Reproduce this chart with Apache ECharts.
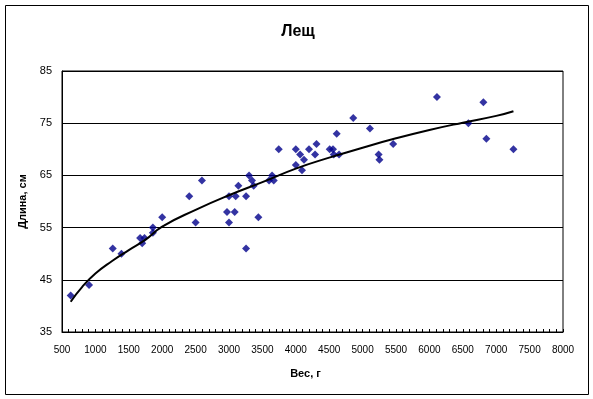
<!DOCTYPE html>
<html>
<head>
<meta charset="utf-8">
<script src="https://cdn.jsdelivr.net/npm/echarts@6/dist/echarts.min.js"></script>
<style>
  html, body { margin: 0; padding: 0; background: #fff; }
  #main { width: 593px; height: 399px; }
</style>
</head>
<body>
<div id="main"></div>
<script>
// вес, г / длина, см
const weights = [630, 905, 1260, 1390, 1670, 1700, 1735, 1860, 1860, 2000,
  2405, 2500, 2595, 2970, 3000, 3000, 3085, 3100, 3140, 3255,
  3255, 3300, 3344, 3370, 3440, 3600, 3645, 3670, 3745, 4000,
  4000, 4065, 4093, 4123, 4198, 4288, 4310, 4507, 4557, 4568,
  4648, 4612, 4860, 5110, 5240, 5252, 5458, 6113, 6583, 6808,
  6853, 7258]
const lengths = [42, 44, 51, 50, 53, 52, 53, 55, 54, 57,
  61, 56, 64, 58, 61, 56, 58, 61, 63, 61,
  51, 65, 64, 63, 57, 64, 65, 64, 70, 70,
  67, 69, 66, 68, 70, 69, 71, 70, 70, 69,
  69, 73, 76, 74, 69, 68, 71, 80, 75, 79,
  72, 70]

// линия тренда
const trendX = [630, 800, 1000, 1250, 1500, 1750, 2000, 2500, 3000, 3500,
  4000, 4500, 5000, 5500, 6000, 6500, 7000, 7258]
const trendY = [40.8, 43.6, 46.2, 48.6, 50.7, 52.7, 55.2, 58.4, 61.2, 63.7,
  66.3, 68.4, 70.3, 72.1, 73.7, 75.1, 76.4, 77.3]

const xTicks = { min: 500, max: 8000, step: 500 }
const yTicks = { min: 35, max: 85, step: 10 }

const chart = echarts.init(document.getElementById('main'))

chart.setOption({
  animation: false,
  backgroundColor: '#fff',
  textStyle: { fontFamily: 'Liberation Sans, Arial, sans-serif' },
  title: {
    text: 'Лещ',
    left: 293,
    top: 19,
    textAlign: 'center',
    textStyle: { fontSize: 16, fontWeight: 'bold', color: '#000' }
  },
  graphic: [{
    type: 'rect',
    shape: { x: 5.5, y: 5.5, width: 583, height: 389 },
    style: { fill: null, stroke: '#000', lineWidth: 1 },
    silent: true
  }],
  grid: {
    left: 62, top: 71, right: 30, bottom: 67,
    show: true, borderColor: '#000', borderWidth: 1,
    containLabel: false
  },
  xAxis: {
    type: 'value',
    min: xTicks.min, max: xTicks.max, interval: xTicks.step,
    name: 'Вес, г',
    nameLocation: 'middle',
    nameGap: 36,
    nameTextStyle: { fontSize: 11, fontWeight: 'bold', color: '#000', padding: [0, 14, 0, 0] },
    axisLine: { show: true, lineStyle: { color: '#000', width: 1 } },
    axisTick: { show: true, inside: true, length: 3, lineStyle: { color: '#000' } },
    minorTick: { show: true, splitNumber: 5, length: 3, lineStyle: { color: '#000' } },
    axisLabel: { fontSize: 10, color: '#000', margin: 13, formatter: v => String(v) },
    splitLine: { show: false }
  },
  yAxis: {
    type: 'value',
    min: yTicks.min, max: yTicks.max, interval: yTicks.step,
    name: 'Длина, см',
    nameLocation: 'middle',
    nameGap: 34,
    nameTextStyle: { fontSize: 11, fontWeight: 'bold', color: '#000' },
    axisLine: { show: true, lineStyle: { color: '#000', width: 1 } },
    axisTick: { show: false },
    axisLabel: { fontSize: 11, color: '#000', margin: 10, formatter: v => String(v) },
    splitLine: { show: true, lineStyle: { color: '#000', width: 1 } }
  },
  series: [{
    name: 'Лещ',
    type: 'scatter',
    symbol: 'diamond',
    symbolSize: 8,
    itemStyle: { color: '#00008b' },
    data: weights.map((w, i) => [w, lengths[i]]),
    z: 3
  }, {
    name: 'Тренд',
    type: 'line',
    smooth: true,
    showSymbol: false,
    symbol: 'none',
    lineStyle: { color: '#000', width: 2 },
    data: trendX.map((x, i) => [x, trendY[i]]),
    z: 4
  }]
})
</script>
</body>
</html>
